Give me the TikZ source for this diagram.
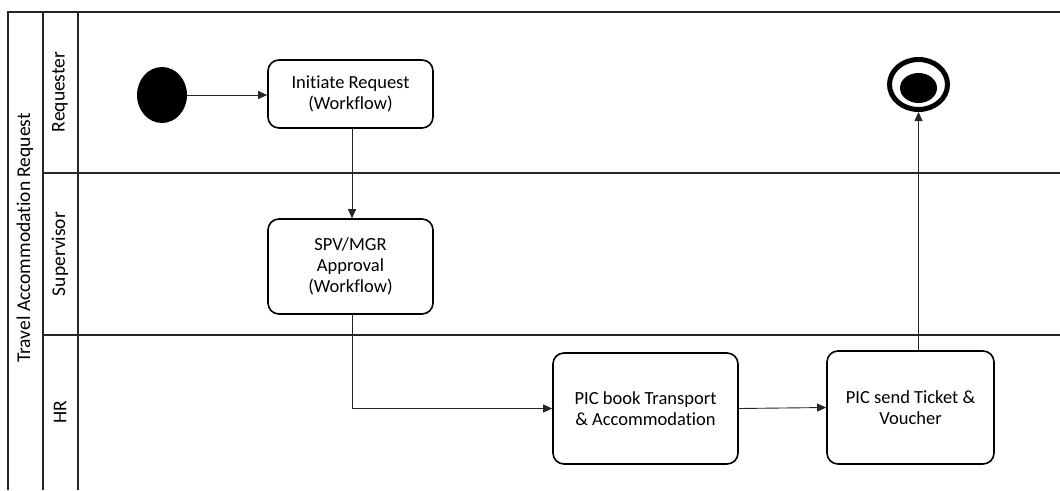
\documentclass[tikz,border=0pt]{standalone}
\usepackage{fontspec}
\setmainfont{Carlito}[Ligatures=NoCommon]
\usetikzlibrary{arrows.meta,shapes.geometric}
\begin{document}
\begin{tikzpicture}[x=1pt,y=-1pt,
  task/.style={draw, line width=1.6pt, rounded corners=11pt, align=center,
    font=\fontsize{18.5}{21}\selectfont, inner sep=0pt},
  flow/.style={-{Triangle[length=9pt,width=8pt]}, line width=0.9pt, draw=black!85},
  lane/.style={line width=1.1pt, draw=black!85},
  lbl/.style={rotate=90, font=\fontsize{19.5}{22}\selectfont}]
\useasboundingbox (0,0) rectangle (1060,490);
% pool and lanes
\draw[lane] (8,490) -- (8,12) -- (1060,12);
\draw[lane] (43,12) -- (43,490);
\draw[lane] (78,12) -- (78,490);
\draw[lane] (43,173) -- (1060,173);
\draw[lane] (43,335) -- (1060,335);
\node[lbl] (pool) at (25,238) {Travel Accommodation Request};
\node[lbl] (lreq) at (60,92) {Requester};
\node[lbl] (lsup) at (60,254) {Supervisor};
\node[lbl] (lhr) at (60,412) {HR};
% events
\node[ellipse, fill=black, minimum width=50pt, minimum height=56pt, inner sep=0pt] (start) at (162,95) {};
\node[ellipse, draw, line width=5pt, minimum width=58pt, minimum height=50pt, inner sep=0pt] (end) at (918.5,84.5) {};
\node[ellipse, fill=black, minimum width=37pt, minimum height=30pt, inner sep=0pt] (endin) at (918.5,88) {};
% tasks
\node[task, minimum width=165pt, minimum height=68pt] (init) at (350.5,94) {Initiate Request\\(Workflow)};
\node[task, minimum width=165pt, minimum height=95pt] (spv) at (350.5,266.5) {SPV/MGR\\Approval\\(Workflow)};
\node[task, minimum width=185pt, minimum height=111pt] (book) at (645.5,408.5) {PIC book Transport\\\& Accommodation};
\node[task, minimum width=167pt, minimum height=113pt] (send) at (910.5,407.5) {PIC send Ticket \&\\Voucher};
% flows
\draw[flow] (start) -- (init.west |- start);
\draw[flow] (init.south -| 352,0) -- (352,0 |- spv.north);
\draw[flow] (352,0 |- spv.south) -- (352,0 |- book.west) -- (book.west);
\draw[flow] (book.east) -- (send.west);
\draw[flow] (end |- send.north) -- (end.south);
\end{tikzpicture}
\end{document}
